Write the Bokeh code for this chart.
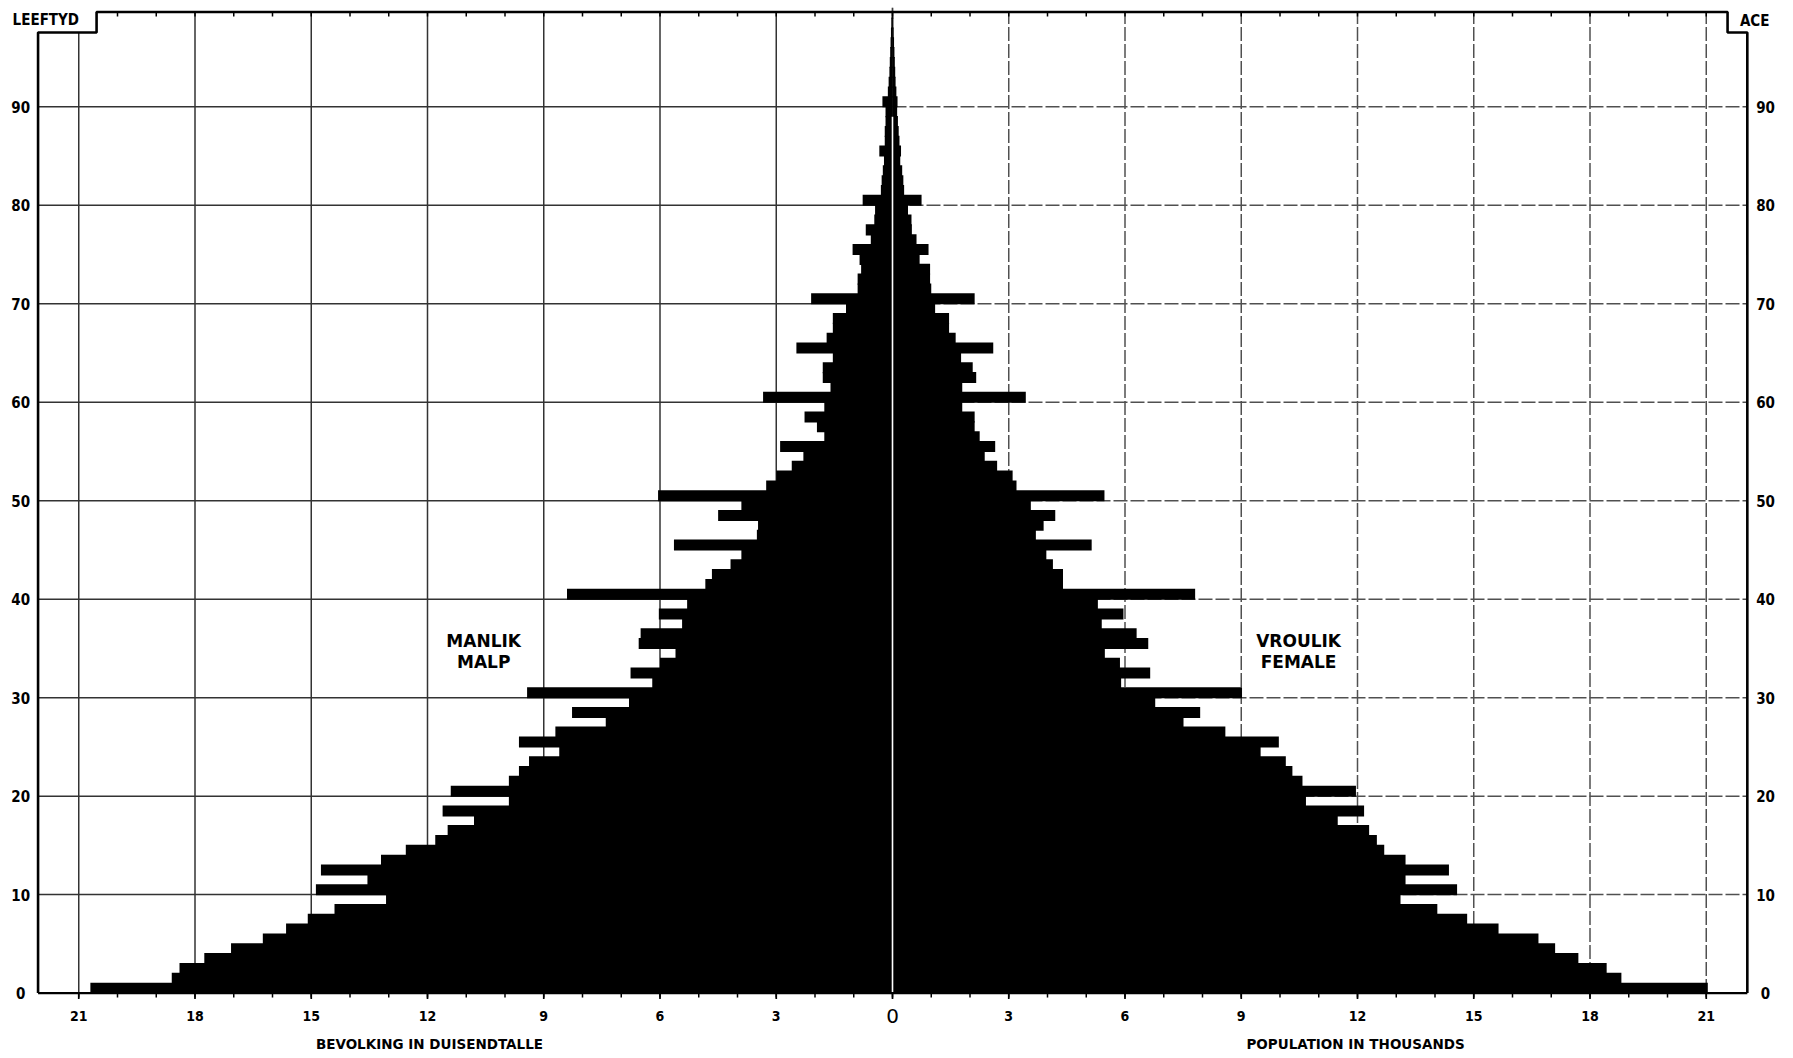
from bokeh.plotting import figure
from bokeh.models import Range1d
from bokeh.core.properties import value
from bokeh.embed import file_html
from bokeh.resources import INLINE

# ---------------- data (thousands) ----------------
ages = list(range(0, 100))
male = [
    20.7, 18.6, 18.4, 17.76, 17.07, 16.25, 15.65, 15.09, 14.4, 13.07,
    14.88, 13.55, 14.75, 13.2, 12.56, 11.8, 11.48, 10.8, 11.61, 9.9,
    11.4, 9.9, 9.64, 9.38, 8.6, 9.64, 8.7, 7.4, 8.27, 6.8,
    9.43, 6.2, 6.76, 6.0, 5.6, 6.55, 6.5, 5.43, 6.03, 5.3,
    8.4, 4.83, 4.66, 4.18, 3.9, 5.64, 3.5, 3.47, 4.5, 3.9,
    6.05, 3.26, 3.0, 2.6, 2.3, 2.9, 1.76, 1.95, 2.27, 1.76,
    3.34, 1.6, 1.8, 1.8, 1.54, 2.48, 1.7, 1.54, 1.54, 1.2,
    2.1, 0.9, 0.9, 0.81, 0.85, 1.03, 0.56, 0.69, 0.47, 0.45,
    0.77, 0.3, 0.28, 0.25, 0.22, 0.34, 0.2, 0.2, 0.18, 0.18,
    0.26, 0.12, 0.1, 0.08, 0.07, 0.06, 0.05, 0.04, 0.03, 0.02,
]
female = [
    21.04, 18.81, 18.43, 17.70, 17.10, 16.67, 15.64, 14.83, 14.06, 13.11,
    14.57, 13.24, 14.36, 13.24, 12.69, 12.5, 12.3, 11.49, 12.17, 10.67,
    11.96, 10.58, 10.32, 10.15, 9.5, 9.97, 8.59, 7.51, 7.94, 6.78,
    9.02, 5.9, 6.65, 5.87, 5.48, 6.6, 6.3, 5.4, 5.96, 5.3,
    7.81, 4.4, 4.4, 4.14, 3.97, 5.14, 3.7, 3.9, 4.2, 3.57,
    5.47, 3.2, 3.1, 2.7, 2.38, 2.65, 2.25, 2.12, 2.12, 1.8,
    3.44, 1.8, 2.16, 2.07, 1.77, 2.6, 1.63, 1.46, 1.46, 1.1,
    2.12, 1.0, 0.97, 0.97, 0.7, 0.93, 0.62, 0.5, 0.49, 0.4,
    0.75, 0.3, 0.28, 0.25, 0.2, 0.22, 0.18, 0.16, 0.14, 0.12,
    0.13, 0.1, 0.08, 0.07, 0.06, 0.05, 0.04, 0.03, 0.02, 0.02,
]
x_ticks = [-21, -18, -15, -12, -9, -6, -3, 0, 3, 6, 9, 12, 15, 18, 21]
x_tick_labels = ["21", "18", "15", "12", "9", "6", "3", "0", "3", "6", "9", "12", "15", "18", "21"]
x_minor = list(range(-21, 22))
y_ticks = [0, 10, 20, 30, 40, 50, 60, 70, 80, 90]
y_tick_labels = ["0", "10", "20", "30", "40", "50", "60", "70", "80", "90"]

# ---------------- layout constants ----------------
W, H = 1792, 1056
CX, UX = 892.0, 38.75      # pixel of x=0, pixels per thousand
BASE, UY = 992.6, 9.848    # pixel of age 0, pixels per year
X_MIN, X_MAX = -22.05, 22.06
Y_LOW, Y_HIGH = 97.54, 99.63
STEP_L, STEP_R = -20.54, 21.55

NARROW = "'Liberation Sans Narrow', 'DejaVu Sans Condensed', 'Liberation Sans', sans-serif"
WIDE = "'DejaVu Sans', 'Liberation Sans', sans-serif"

p = figure(width=W, height=H,
           x_range=Range1d(-CX / UX, (W - CX) / UX),
           y_range=Range1d(-(H - BASE) / UY, BASE / UY),
           x_axis_location=None, y_axis_location=None,
           output_backend="svg", toolbar_location=None,
           min_border=0, min_border_left=0, min_border_right=0,
           min_border_top=0, min_border_bottom=0)
p.outline_line_color = None
p.background_fill_color = "white"
p.border_fill_color = "white"
p.xgrid.visible = False
p.ygrid.visible = False

DARK, LIGHT = "#333333", "#505050"
# vertical grid lines: left half solid dark, right half broken
vtop = {x: (Y_LOW if (x < STEP_L or x > STEP_R) else Y_HIGH) for x in x_ticks}
vl = [x for x in x_ticks if x <= 0]
vr = [x for x in x_ticks if x > 0]
p.segment(x0=vl, y0=[0] * len(vl), x1=vl, y1=[vtop[x] for x in vl],
          line_color=DARK, line_width=1.5)
p.segment(x0=vr, y0=[0] * len(vr), x1=vr, y1=[vtop[x] for x in vr],
          line_color=LIGHT, line_width=1.5, line_dash="14 3")
# horizontal grid lines
hy = y_ticks[1:]
p.segment(x0=[X_MIN] * len(hy), y0=hy, x1=[0] * len(hy), y1=hy,
          line_color=DARK, line_width=1.5)
p.segment(x0=[0] * len(hy), y0=hy, x1=[X_MAX] * len(hy), y1=hy,
          line_color=LIGHT, line_width=1.5, line_dash="14 3")

# bars (overlapping a little so the solid body has no seams)
yc = [a + 0.5 for a in ages]
p.hbar(y=yc, height=1.12, left=[-m for m in male], right=0,
       fill_color="black", line_color=None)
p.hbar(y=yc, height=1.12, left=0, right=female,
       fill_color="black", line_color=None)

# white separating line along the centre
p.segment(x0=[0], y0=[0], x1=[0], y1=[89.0], line_color="white", line_width=1.6)

# small ticks under the top frame line and under the base line
top_ticks = [x for x in x_minor if STEP_L < x < STEP_R]
p.segment(x0=top_ticks, y0=[Y_HIGH] * len(top_ticks), x1=top_ticks,
          y1=[Y_HIGH - 0.45] * len(top_ticks), line_color="black", line_width=1.5)
p.segment(x0=x_minor, y0=[0] * len(x_minor), x1=x_minor,
          y1=[-0.45] * len(x_minor), line_color="black", line_width=1.5)
p.segment(x0=x_ticks, y0=[0] * len(x_ticks), x1=x_ticks,
          y1=[-0.6] * len(x_ticks), line_color="black", line_width=1.7)

# base line and stepped frame
p.segment(x0=[X_MIN], y0=[0], x1=[X_MAX], y1=[0], line_color="black", line_width=2.4)
fx = [X_MIN, X_MIN, STEP_L, STEP_L, STEP_R, STEP_R, X_MAX, X_MAX]
fy = [0, Y_LOW, Y_LOW, Y_HIGH, Y_HIGH, Y_LOW, Y_LOW, 0]
p.line(fx, fy, line_color="black", line_width=2.6)

# x tick labels
small = [(t, s) for t, s in zip(x_ticks, x_tick_labels) if t != 0]
p.text(x=[t for t, s in small], y=[-2.3] * len(small), text=[s for t, s in small],
       text_align="center", text_baseline="middle",
       text_font=value(NARROW), text_font_style="bold", text_font_size="14px",
       text_color="black")
p.text(x=[t for t, s in zip(x_ticks, x_tick_labels) if t == 0], y=[-2.3],
       text=[s for t, s in zip(x_ticks, x_tick_labels) if t == 0],
       text_align="center", text_baseline="middle",
       text_font=value(WIDE), text_font_size="20px", text_color="black")

# y tick labels (both sides)
p.text(x=[-22.5] * len(y_ticks), y=y_ticks, text=y_tick_labels,
       text_align="center", text_baseline="middle",
       text_font=value(NARROW), text_font_style="bold", text_font_size="15px",
       text_color="black")
p.text(x=[22.53] * len(y_ticks), y=y_ticks, text=y_tick_labels,
       text_align="center", text_baseline="middle",
       text_font=value(NARROW), text_font_style="bold", text_font_size="15px",
       text_color="black")

# axis titles
p.text(x=[-11.95, 11.95], y=[-5.12, -5.12],
       text=["BEVOLKING IN DUISENDTALLE", "POPULATION IN THOUSANDS"],
       text_align="center", text_baseline="middle",
       text_font=value(WIDE), text_font_style="bold", text_font_size="13.5px",
       text_color="black")

# corner labels
p.text(x=[-21.85, 22.25], y=[98.86, 98.66], text=["LEEFTYD", "ACE"],
       text_align="center", text_baseline="middle",
       text_font=value(NARROW), text_font_style="bold", text_font_size="15px",
       text_color="black")

# sex labels
p.text(x=[-10.55, -10.55, 10.48, 10.48], y=[35.8, 33.67, 35.8, 33.67],
       text=["MANLIK", "MALP", "VROULIK", "FEMALE"],
       text_align="center", text_baseline="middle",
       text_font=value(WIDE), text_font_style="bold", text_font_size="17px",
       text_color="black")

open("out.html", "w").write(file_html(p, INLINE))
